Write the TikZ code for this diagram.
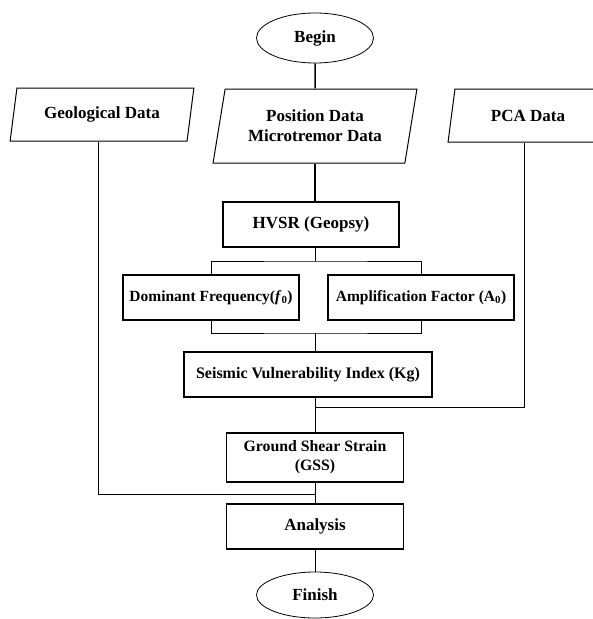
\documentclass[tikz,border=0pt]{standalone}
\usepackage{fontspec}
\setmainfont{Liberation Serif}
\usetikzlibrary{shapes.geometric}
\tikzset{
  base/.style={font=\fontsize{17}{20}\selectfont\bfseries, align=center, inner sep=1pt},
  small/.style={font=\fontsize{15.5}{19}\selectfont\bfseries},
  procbox/.style={base, draw, line width=1.1pt, rectangle},
  iobox/.style={base, draw, line width=1pt, trapezium, trapezium left angle=75,
    trapezium right angle=105, trapezium stretches=true},
  term/.style={base, draw, line width=0.8pt, ellipse},
  conn/.style={line width=0.8pt},
  thickconn/.style={line width=1.5pt},
}
\begin{document}
\begin{tikzpicture}[x=1pt,y=-1pt]
\clip (0,0) rectangle (593,619);
\fill[white] (0,0) rectangle (593,619);
\node[term, minimum width=117pt, minimum height=50pt] (begin) at (315,38) {Begin};
\node[iobox, minimum width=184pt, minimum height=53pt] (geo) at (102,114.5) {Geological Data};
\node[iobox, minimum width=204pt, minimum height=74pt] (pos) at (315,126) {Position Data\\Microtremor Data};
\node[iobox, minimum width=160pt, minimum height=53pt] (pca) at (528,115.5) {PCA Data};
\node[procbox, minimum width=176pt, minimum height=45pt] (hvsr) at (311,224.5) {HVSR (Geopsy)};
\node[procbox, small, minimum width=176pt, minimum height=45pt] (dom) at (211,297.5) {Dominant Frequency(\textit{f}\textsubscript{0})};
\node[procbox, small, minimum width=186pt, minimum height=45pt] (amp) at (421,297.5) {Amplification Factor (A\textsubscript{0})};
\node[procbox, font=\fontsize{16}{19}\selectfont\bfseries, minimum width=248pt, minimum height=45pt] (seis) at (308,374.5) {Seismic Vulnerability Index (Kg)};
\node[procbox, font=\fontsize{15.8}{19}\selectfont\bfseries, minimum width=177pt, minimum height=49pt] (gss) at (315,457.5) {Ground Shear Strain\\(GSS)};
\node[procbox, minimum width=177pt, minimum height=45pt] (ana) at (315,526.5) {Analysis};
\node[term, minimum width=117pt, minimum height=46pt] (fin) at (315,595) {Finish};
\coordinate (s1) at (315,261);
\coordinate (m1) at (315,333);
\coordinate (m2) at (315,407);
\coordinate (m3) at (315,494);
\draw[thickconn] (begin.south) -- (pos.north);
\draw[thickconn] (pos.center |- pos.south) -- (pos.center |- hvsr.north);
\draw[conn] (hvsr.south -| s1) -- (s1);
\draw[conn] (dom.north) |- (s1) -| (amp.north);
\draw[conn] (dom.south) |- (m1) -| (amp.south);
\draw[conn] (m1) -- (m1 |- seis.north);
\draw[conn] (seis.south -| m2) -- (m2 |- gss.north);
\draw[conn] (pca.bottom side) |- (m2);
\draw[conn] (gss.south) -- (ana.north);
\draw[conn] (geo.bottom side) |- (m3);
\draw[conn] (ana.south) -- (fin.north);
\end{tikzpicture}
\end{document}
